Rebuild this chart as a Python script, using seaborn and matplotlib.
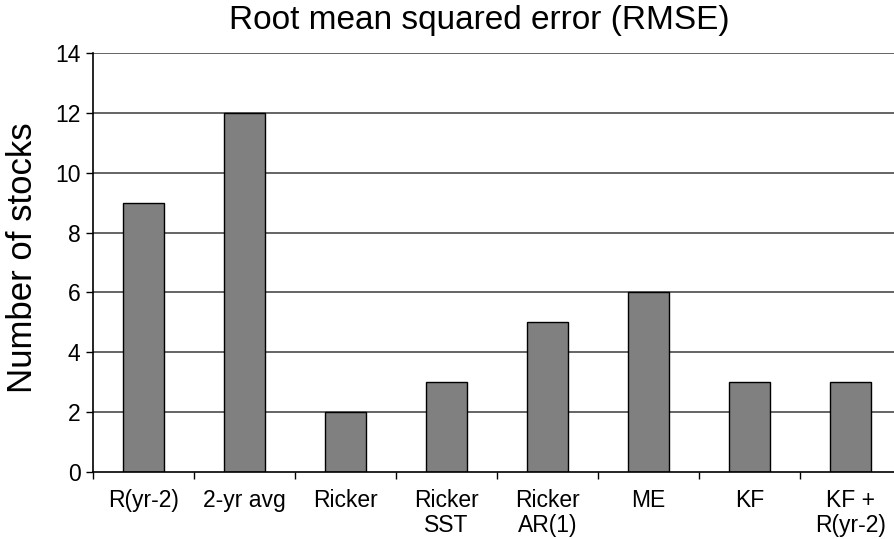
import matplotlib
matplotlib.use("Agg")
import matplotlib.pyplot as plt
import numpy as np
import seaborn as sns

# Données
modeles = ["R(yr-2)", "2-yr avg", "Ricker", "Ricker\nSST", "Ricker\nAR(1)", "ME", "KF", "KF +\nR(yr-2)"]
nb_stocks = [9, 12, 2, 3, 5, 6, 3, 3]
graduations_y = [0, 2, 4, 6, 8, 10, 12, 14]

sns.set_style("white")
plt.rcParams["font.family"] = ["Liberation Sans", "DejaVu Sans"]
plt.rcParams["text.color"] = "black"
plt.rcParams["xtick.color"] = "black"
plt.rcParams["ytick.color"] = "black"

fig = plt.figure(figsize=(8.95, 5.39), dpi=100)
ax = fig.add_axes([93 / 895, 1 - 472 / 539, 808 / 895, 419 / 539])

ax.set_axisbelow(True)
for g in graduations_y[1:]:
    ax.axhline(g, color="#3a3a3a", linewidth=1.1, zorder=0)

sns.barplot(x=modeles, y=nb_stocks, color="#808080", edgecolor="black",
            linewidth=1.0, width=0.4, saturation=1, ax=ax, zorder=2)

ax.set_ylim(0, 14)
ax.set_xlim(-0.5, len(modeles) - 0.5)
ax.set_yticks(graduations_y)
ax.tick_params(axis="y", labelsize=16.5, length=5, width=1, direction="out",
               left=True, color="black", labelcolor="black", pad=4)
ax.set_xticks(range(len(modeles)))
ax.set_xticklabels(modeles, fontsize=16.5, linespacing=1.15)
ax.tick_params(axis="x", which="major", length=0, pad=12, labelcolor="black")
ax.set_xticks(np.arange(-0.5, len(modeles)), minor=True)
ax.tick_params(axis="x", which="minor", length=5, width=1, direction="out",
               bottom=True, color="black")

for cote in ["top", "right"]:
    ax.spines[cote].set_visible(False)
for cote in ["left", "bottom"]:
    ax.spines[cote].set_color("black")
    ax.spines[cote].set_linewidth(1.2)

ax.set_xlabel("")
ax.set_ylabel("")
fig.text(23 / 895, 1 - 258 / 539, "Number of stocks", rotation=90,
         ha="center", va="center", fontsize=25, color="black")
fig.text(479 / 895, 1 - 20 / 539, "Root mean squared error (RMSE)",
         ha="center", va="center", fontsize=24, color="black")

fig.savefig("out.png", dpi=100)
